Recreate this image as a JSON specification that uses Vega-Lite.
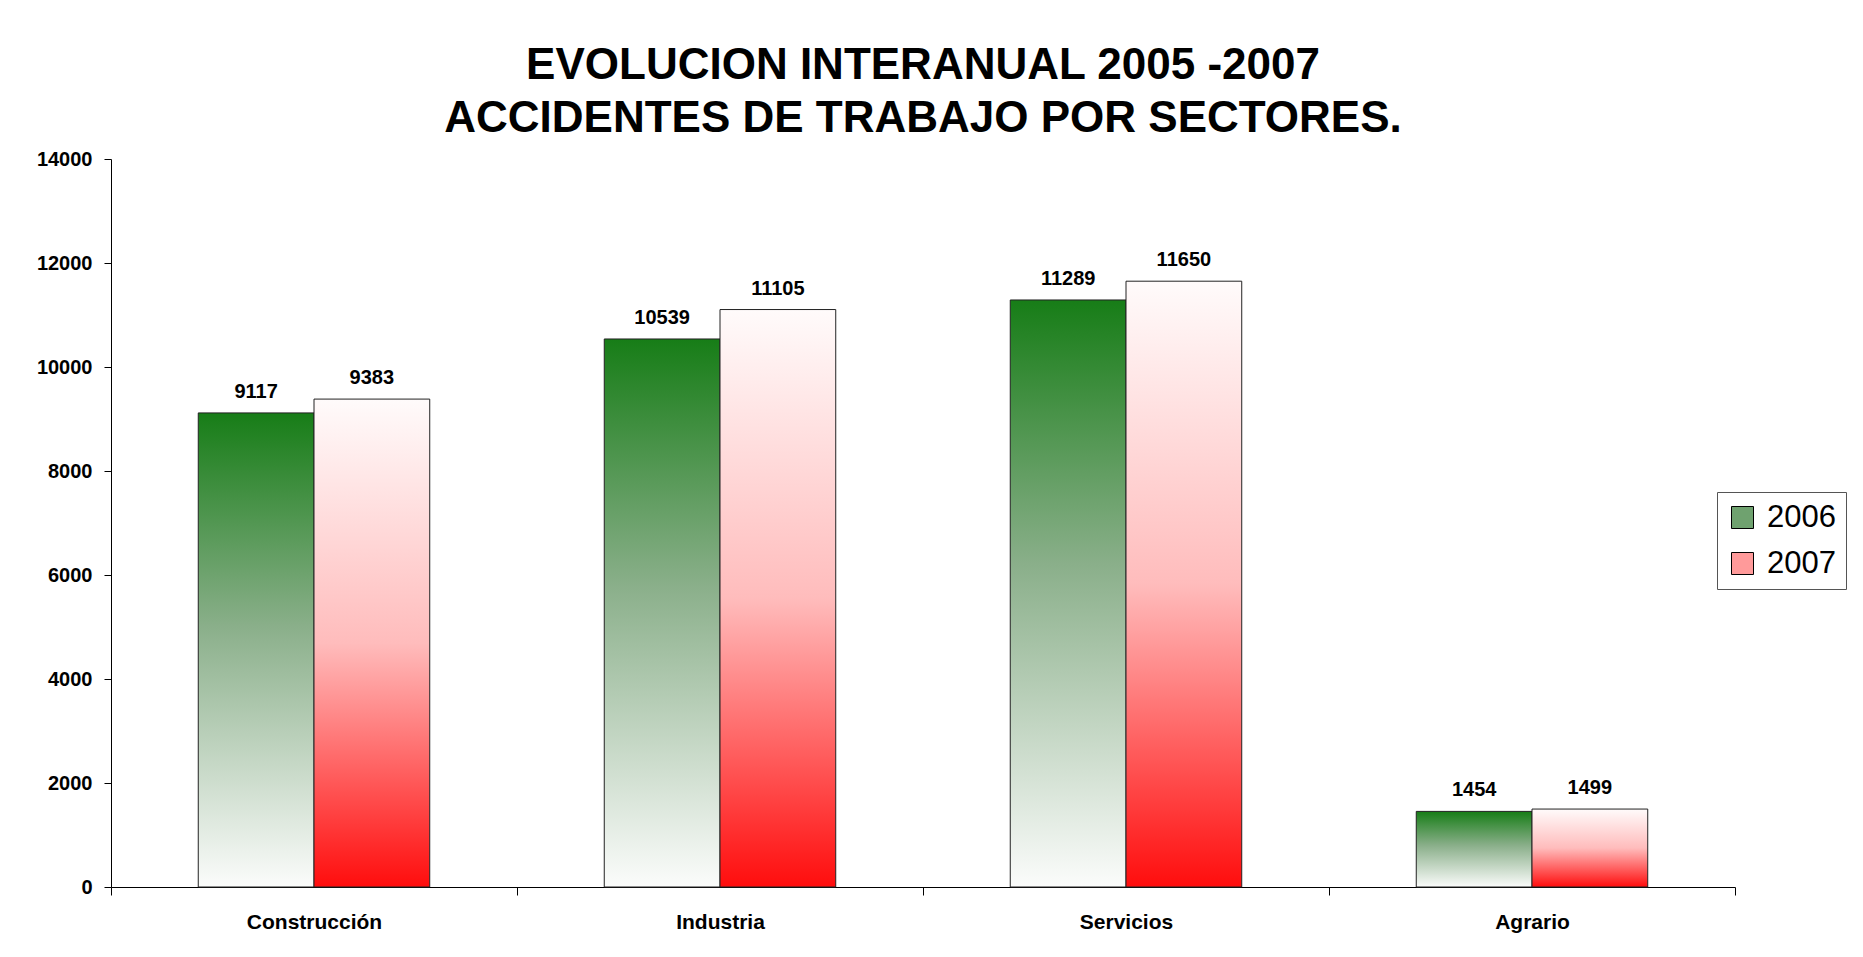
{
  "$schema": "https://vega.github.io/schema/vega-lite/v6.json",
  "width": 1624,
  "height": 728,
  "padding": {"left": 36, "top": 44, "right": 10, "bottom": 10},
  "background": "white",
  "title": {
    "text": ["EVOLUCION INTERANUAL 2005 -2007", "ACCIDENTES DE TRABAJO POR SECTORES."],
    "fontSize": 44,
    "font": "Liberation Sans",
    "fontWeight": "bold",
    "lineHeight": 53,
    "offset": 8,
    "anchor": "middle",
    "color": "black"
  },
  "data": {
    "values": [
      {"sector": "Construcción", "year": "2006", "value": 9117},
      {"sector": "Construcción", "year": "2007", "value": 9383},
      {"sector": "Industria", "year": "2006", "value": 10539},
      {"sector": "Industria", "year": "2007", "value": 11105},
      {"sector": "Servicios", "year": "2006", "value": 11289},
      {"sector": "Servicios", "year": "2007", "value": 11650},
      {"sector": "Agrario", "year": "2006", "value": 1454},
      {"sector": "Agrario", "year": "2007", "value": 1499}
    ]
  },
  "encoding": {
    "x": {
      "field": "sector",
      "type": "nominal",
      "sort": ["Construcción", "Industria", "Servicios", "Agrario"],
      "scale": {"paddingInner": 0, "paddingOuter": 0},
      "axis": {
        "title": null,
        "labelAngle": 0,
        "labelFont": "Liberation Sans",
        "labelFontWeight": "bold",
        "labelFontSize": 21,
        "labelColor": "black",
        "tickBand": "extent",
        "tickSize": 8,
        "tickColor": "black",
        "domainColor": "black",
        "labelPadding": 16,
        "grid": false
      }
    },
    "xOffset": {
      "field": "year",
      "type": "nominal",
      "sort": ["2006", "2007"],
      "scale": {"paddingOuter": 0.754, "paddingInner": 0}
    },
    "y": {
      "field": "value",
      "type": "quantitative",
      "scale": {"domain": [0, 14000], "nice": false},
      "axis": {
        "title": null,
        "values": [0, 2000, 4000, 6000, 8000, 10000, 12000, 14000],
        "format": "d",
        "labelFont": "Liberation Sans",
        "labelFontWeight": "bold",
        "labelFontSize": 20,
        "labelColor": "black",
        "labelPadding": 12,
        "tickSize": 7,
        "tickColor": "black",
        "domainColor": "black",
        "grid": false
      }
    }
  },
  "layer": [
    {
      "transform": [{"filter": "datum.year === '2006'"}],
      "mark": {
        "type": "bar",
        "stroke": "#222222",
        "strokeWidth": 1,
        "fill": {"gradient": "linear", "x1": 1, "y1": 0, "x2": 1, "y2": 1, "stops": [
          {"offset": 0, "color": "#177d17"},
          {"offset": 0.45, "color": "#8aaf8a"},
          {"offset": 1, "color": "#fbfcfb"}
        ]}
      }
    },
    {
      "transform": [{"filter": "datum.year === '2007'"}],
      "mark": {
        "type": "bar",
        "stroke": "#222222",
        "strokeWidth": 1,
        "fill": {"gradient": "linear", "x1": 1, "y1": 0, "x2": 1, "y2": 1, "stops": [
          {"offset": 0, "color": "#fffbfb"},
          {"offset": 0.5, "color": "#ffbcbc"},
          {"offset": 1, "color": "#ff0d0d"}
        ]}
      }
    },
    {
      "mark": {"type": "text", "dy": -15, "baseline": "alphabetic", "fontSize": 20, "fontWeight": "bold", "font": "Liberation Sans", "fill": "black"},
      "encoding": {
        "text": {"field": "value", "type": "quantitative", "format": "d"}
      }
    },
    {
      "mark": {"type": "text", "text": " ", "fontSize": 1},
      "encoding": {
        "fill": {
          "field": "year",
          "type": "nominal",
          "scale": {"domain": ["2006", "2007"], "range": ["#6fa26f", "#ff9a9a"]},
          "legend": {
            "orient": "none",
            "legendX": 1606,
            "legendY": 333,
            "title": null,
            "symbolType": "square",
            "symbolSize": 484,
            "symbolStrokeColor": "black",
            "symbolStrokeWidth": 1,
            "symbolOpacity": 1,
            "labelFontSize": 31,
            "labelFont": "Liberation Sans",
            "labelColor": "black",
            "labelOffset": 9,
            "rowPadding": 14,
            "padding": 10,
            "strokeColor": "#555555",
            "fillColor": "white"
          }
        }
      }
    }
  ],
  "config": {"view": {"stroke": null}}
}
